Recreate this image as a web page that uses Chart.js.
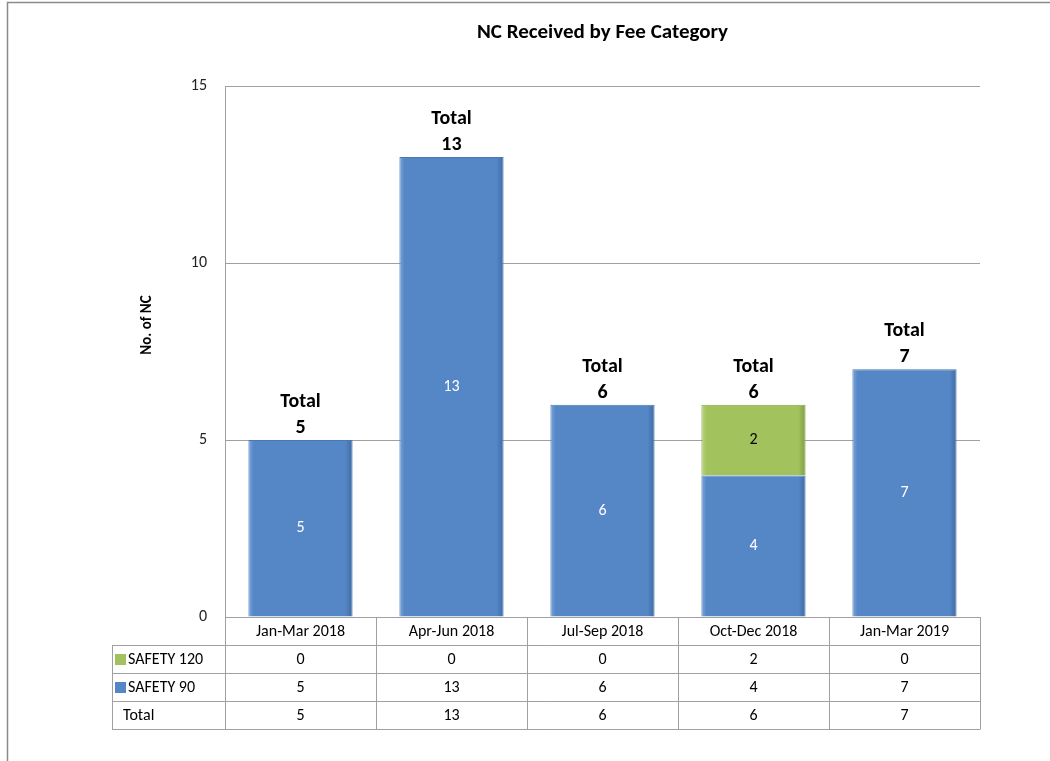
<!DOCTYPE html>
<html>
<head>
<meta charset="utf-8">
<title>NC Received by Fee Category</title>
<script src="https://cdn.jsdelivr.net/npm/chart.js@4.4.0/dist/chart.umd.min.js"></script>
<style>
  body { margin: 0; background: #fff; }
  canvas { display: block; }
</style>
</head>
<body>
<canvas id="chart" width="1050" height="761"></canvas>
<script>
'use strict'

let categories = ['Jan-Mar 2018', 'Apr-Jun 2018', 'Jul-Sep 2018', 'Oct-Dec 2018', 'Jan-Mar 2019'];
let safety120 = [0, 0, 0, 2, 0];
let safety90 = [5, 13, 6, 4, 7];
let yTicks = [0, 5, 10, 15];

let totals = [];
for (let i = 0; i < categories.length; i++) {
    totals.push(safety120[i] + safety90[i]);
}

let blue = '#5587c7';
let green = '#a2c25e';
let lineGray = '#a0a0a0';
let fontFamily = 'Carlito, Lato, sans-serif';
let barPct = 0.69;

let canvasElem = document.getElementById('chart');

// horizontal shading so the bars get a little of the bevel look
function barFill(light, mid, dark) {
    return function (context) {
        let chart = context.chart;
        if (!chart.chartArea || context.dataIndex === undefined) return mid;
        let x = chart.scales.x;
        let colW = (chart.chartArea.right - chart.chartArea.left) / categories.length;
        let cx = x.getPixelForValue(context.dataIndex);
        let half = colW * barPct / 2;
        let g = chart.ctx.createLinearGradient(cx - half, 0, cx + half, 0);
        g.addColorStop(0, light);
        g.addColorStop(0.05, mid);
        g.addColorStop(0.93, mid);
        g.addColorStop(1, dark);
        return g;
    };
}

// value labels inside the bars + "Total" labels on top
let labelPlugin = {
    id: 'labels',
    afterDatasetsDraw(chart) {
        let ctx = chart.ctx;
        ctx.save();
        ctx.textAlign = 'center';
        ctx.textBaseline = 'middle';
        chart.data.datasets.forEach(function (ds, di) {
            let meta = chart.getDatasetMeta(di);
            meta.data.forEach(function (bar, i) {
                if (!ds.data[i]) return;
                ctx.font = '16px ' + fontFamily;
                ctx.fillStyle = ds.labelColor;
                ctx.fillText(String(ds.data[i]), bar.x, (bar.y + bar.base) / 2);
            });
        });
        let y = chart.scales.y;
        let x = chart.scales.x;
        ctx.fillStyle = '#000';
        ctx.font = 'bold 20px ' + fontFamily;
        for (let i = 0; i < totals.length; i++) {
            let top = y.getPixelForValue(totals[i]);
            let cx = x.getPixelForValue(i);
            ctx.fillText('Total', cx, top - 38);
            ctx.fillText(String(totals[i]), cx, top - 12);
        }
        ctx.restore();
    }
};

// data table under the plot, axis title and outer frame
let tablePlugin = {
    id: 'table',
    afterDraw(chart) {
        let ctx = chart.ctx;
        let area = chart.chartArea;
        let x = chart.scales.x;
        let colW = (area.right - area.left) / categories.length;
        let rowH = 28;
        let tableLeft = 112;
        let top = area.bottom;
        let rows = [
            { name: 'SAFETY 120', values: safety120, color: green },
            { name: 'SAFETY 90', values: safety90, color: blue },
            { name: 'Total', values: totals, color: null }
        ];
        let bottom = top + rowH * (rows.length + 1);

        ctx.save();
        ctx.strokeStyle = lineGray;
        ctx.lineWidth = 1;
        ctx.beginPath();
        // vertical lines
        for (let i = 0; i <= categories.length; i++) {
            let lx = Math.round(area.left + colW * i) + 0.5;
            ctx.moveTo(lx, top);
            ctx.lineTo(lx, bottom);
        }
        ctx.moveTo(tableLeft + 0.5, top + rowH);
        ctx.lineTo(tableLeft + 0.5, bottom);
        // horizontal lines
        for (let r = 1; r <= rows.length + 1; r++) {
            let ly = Math.round(top + rowH * r) + 0.5;
            ctx.moveTo(tableLeft, ly);
            ctx.lineTo(Math.round(area.right) + 0.5, ly);
        }
        ctx.stroke();

        ctx.fillStyle = '#000';
        ctx.font = '16px ' + fontFamily;
        ctx.textAlign = 'center';
        ctx.textBaseline = 'middle';
        for (let i = 0; i < categories.length; i++) {
            ctx.fillText(categories[i], x.getPixelForValue(i), top + rowH / 2 + 1);
        }
        rows.forEach(function (row, r) {
            let cy = top + rowH * (r + 1) + rowH / 2 + 1;
            ctx.textAlign = 'center';
            ctx.fillStyle = '#000';
            for (let i = 0; i < row.values.length; i++) {
                ctx.fillText(String(row.values[i]), x.getPixelForValue(i), cy);
            }
            ctx.textAlign = 'left';
            if (row.color) {
                ctx.fillStyle = row.color;
                ctx.fillRect(115, cy - 6, 11, 11);
                ctx.fillStyle = '#000';
                ctx.fillText(row.name, 128, cy);
            } else {
                ctx.fillText(row.name, 123, cy);
            }
        });

        // y axis title
        ctx.save();
        ctx.translate(147, 325);
        ctx.rotate(-Math.PI / 2);
        ctx.textAlign = 'center';
        ctx.font = 'bold 15px ' + fontFamily;
        ctx.fillText('No. of NC', 0, 0);
        ctx.restore();

        // outer frame
        ctx.strokeStyle = '#8a8a8a';
        ctx.lineWidth = 1.5;
        ctx.beginPath();
        ctx.moveTo(7.5, 761);
        ctx.lineTo(7.5, 2.5);
        ctx.lineTo(1050, 2.5);
        ctx.stroke();
        ctx.restore();
    }
};

let chartObj = {
    type: 'bar',
    data: {
        labels: categories,
        datasets: [{
            label: 'SAFETY 90',
            data: safety90,
            backgroundColor: barFill('#7aa5db', blue, '#3d6aa3'),
            borderColor: '#4a78b2',
            borderWidth: 1,
            labelColor: '#ffffff'
        },
        {
            label: 'SAFETY 120',
            data: safety120,
            backgroundColor: barFill('#bcd77f', green, '#7f9c45'),
            borderColor: '#86a44a',
            borderWidth: 1,
            labelColor: '#000000'
        }]
    },
    options: {
        responsive: false,
        animation: false,
        events: [],
        barPercentage: barPct,
        categoryPercentage: 1,
        layout: {
            padding: { left: 165, right: 70, top: 0, bottom: 144 }
        },
        scales: {
            x: {
                stacked: true,
                display: false
            },
            y: {
                stacked: true,
                min: 0,
                max: 15,
                afterFit: function (scale) { scale.width = 60; },
                afterBuildTicks: function (scale) {
                    scale.ticks = yTicks.map(function (v) { return { value: v }; });
                },
                grid: { color: lineGray, drawTicks: false },
                border: { color: lineGray },
                ticks: {
                    padding: 18,
                    color: '#222',
                    font: { size: 16, family: fontFamily }
                }
            }
        },
        plugins: {
            legend: { display: false },
            tooltip: { enabled: false },
            title: {
                display: true,
                text: 'NC Received by Fee Category',
                fullSize: false,
                color: '#000',
                font: { size: 21, weight: 'bold', family: fontFamily },
                padding: { top: 20, bottom: 41 }
            }
        }
    },
    plugins: [labelPlugin, tablePlugin]
};

new Chart(canvasElem, chartObj);
</script>
</body>
</html>
